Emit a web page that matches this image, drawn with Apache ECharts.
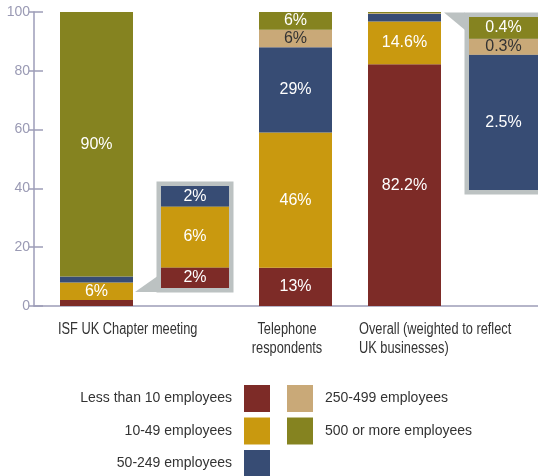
<!DOCTYPE html>
<html>
<head>
<meta charset="utf-8">
<script src="https://cdn.jsdelivr.net/npm/echarts@6/dist/echarts.min.js"></script>
<style>
html, body { margin: 0; padding: 0; background: #fff; }
#chart { width: 538px; height: 476px; }
</style>
</head>
<body>
<div id="chart"></div>
<script>
// survey groups
const groups = ['ISF UK Chapter meeting', 'Telephone\nrespondents', 'Overall (weighted to reflect\nUK businesses)'];
// company size bands
const bands = ['Less than 10 employees', '10-49 employees', '50-249 employees', '250-499 employees', '500 or more employees'];
// percentage per group
const lessThan10 = [2, 13, 82.2];
const from10to49 = [6, 46, 14.6];
const from50to249 = [2, 29, 2.5];
const from250to499 = [0, 6, 0.3];
const over500 = [90, 6, 0.4];
const yTicks = [0, 20, 40, 60, 80, 100];

const bandValues = [lessThan10, from10to49, from50to249, from250to499, over500];
const colors = ['#7d2b27', '#c9990f', '#374c74', '#c9a978', '#858320'];
const font = "'Liberation Sans', Arial, sans-serif";
const axisColor = '#9d9db8';
const frameColor = '#bcc2c2';

// bar grids, px
const barGrids = [
	{ left: 60, width: 73 },
	{ left: 259, width: 73 },
	{ left: 368, width: 73 }
];
// zoomed insets: which group, which bands, where
const insets = [
	{ group: 0, bands: [0, 1, 2], left: 161, top: 186, width: 68, height: 102 },
	{ group: 2, bands: [2, 3, 4], left: 469, top: 17, width: 69, height: 173 }
];

let grid = [{ left: 34, top: 12, right: 0, height: 294 }];
let xAxis = [{
	type: 'value', gridIndex: 0, min: 0, max: 1,
	axisLine: { show: true, lineStyle: { color: axisColor, width: 1.5 } },
	axisTick: { show: false }, axisLabel: { show: false }, splitLine: { show: false }
}];
let yAxis = [
	{
		type: 'value', gridIndex: 0, position: 'left', min: yTicks[0], max: yTicks[yTicks.length - 1], interval: 20,
		axisLine: { show: true, lineStyle: { color: axisColor, width: 1.5 } },
		axisTick: { show: true, length: 5, lineStyle: { color: axisColor, width: 1.5 } },
		axisLabel: { color: '#9a9ab4', fontFamily: font, fontSize: 14, margin: 4 },
		splitLine: { show: false }
	},
	{
		type: 'value', gridIndex: 0, position: 'left', min: yTicks[0], max: yTicks[yTicks.length - 1], interval: 20,
		axisLine: { show: false },
		axisTick: { show: true, inside: true, length: 9, lineStyle: { color: axisColor, width: 1.5 } },
		axisLabel: { show: false }, splitLine: { show: false }
	}
];
let series = [];

function labelFor(b, always) {
	return {
		show: true,
		position: 'inside',
		fontFamily: font,
		fontSize: 16,
		color: b === 3 ? '#333' : '#fff',
		formatter: p => (always || p.value >= 5) ? p.value + '%' : ''
	};
}

barGrids.forEach((g, i) => {
	grid.push({ left: g.left, width: g.width, top: 12, height: 294 });
	let xi = xAxis.length, yi = yAxis.length;
	xAxis.push({ type: 'category', gridIndex: grid.length - 1, data: [groups[i]], show: false });
	yAxis.push({ type: 'value', gridIndex: grid.length - 1, min: 0, max: 100, show: false });
	bands.forEach((name, b) => {
		series.push({
			type: 'bar', name: name, xAxisIndex: xi, yAxisIndex: yi, stack: 'g' + i,
			barWidth: '100%', data: [bandValues[b][i]],
			itemStyle: { color: colors[b] }, label: labelFor(b, false)
		});
	});
});

insets.forEach((ins, k) => {
	let total = ins.bands.reduce((s, b) => s + bandValues[b][ins.group], 0);
	grid.push({
		left: ins.left, top: ins.top, width: ins.width, height: ins.height,
		show: true, backgroundColor: frameColor, borderColor: frameColor, borderWidth: 9
	});
	let xi = xAxis.length, yi = yAxis.length;
	xAxis.push({ type: 'category', gridIndex: grid.length - 1, data: [groups[ins.group]], show: false });
	yAxis.push({ type: 'value', gridIndex: grid.length - 1, min: 0, max: total, show: false });
	ins.bands.forEach(b => {
		series.push({
			type: 'bar', name: bands[b], xAxisIndex: xi, yAxisIndex: yi, stack: 'inset' + k,
			barWidth: '100%', data: [bandValues[b][ins.group]],
			itemStyle: { color: colors[b] }, label: labelFor(b, true)
		});
	});
});

// category labels under the bars (condensed look via scaleX)
let groupLabels = [
	{ x: 58, align: 'left' },
	{ x: 287, align: 'center' },
	{ x: 359, align: 'left' }
];

let legendBase = {
	orient: 'vertical', top: 385, padding: 0, height: 100,
	itemWidth: 26, itemHeight: 27, itemGap: 5.5,
	icon: 'rect', selectedMode: false
};

let chart = echarts.init(document.getElementById('chart'));
chart.setOption({
	animation: false,
	color: colors,
	grid: grid,
	xAxis: xAxis,
	yAxis: yAxis,
	series: series,
	legend: [
		Object.assign({}, legendBase, {
			data: bands.slice(0, 3), align: 'right', right: 268,
			textStyle: { fontFamily: font, fontSize: 14, color: '#333', padding: [0, 7, 0, 0] }
		}),
		Object.assign({}, legendBase, {
			data: bands.slice(3), align: 'left', left: 287,
			textStyle: { fontFamily: font, fontSize: 14, color: '#333', padding: [0, 0, 0, 7] }
		})
	],
	graphic: [
		{ type: 'polygon', z: 0, shape: { points: [[135, 292], [157, 276.5], [157, 292]] }, style: { fill: frameColor } },
		{ type: 'polygon', z: 0, shape: { points: [[444, 12.5], [465, 12.5], [465, 30]] }, style: { fill: frameColor } }
	].concat(groupLabels.map((l, i) => ({
		type: 'text', x: l.x, y: 320, scaleX: 0.8,
		style: { text: groups[i], font: '16px ' + font, fill: '#333', align: l.align, verticalAlign: 'top', lineHeight: 19 }
	})))
});
</script>
</body>
</html>
